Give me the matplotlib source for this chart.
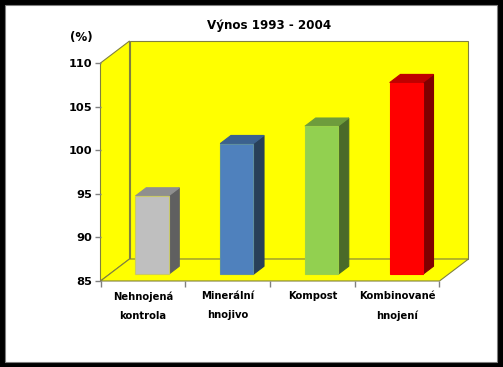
import matplotlib
matplotlib.use("Agg")
import matplotlib.pyplot as plt
from matplotlib.patches import Polygon, Rectangle

categories = ['Nehnojená\nkontrola', 'Minerální\nhnojivo', 'Kompost', 'Kombinované\nhnojení']
values = [94, 100, 102, 107]
front_colors = ['#BFBFBF', '#4F81BD', '#92D050', '#FF0000']
top_colors = ['#8F8F8F', '#3B618E', '#6E9C3C', '#BF0000']
side_colors = ['#606060', '#284059', '#4A6A29', '#800000']
edge_colors = ['#C8C86A', '#5F8FA0', '#9BD04A', '#FF0000']
y_ticks = [85, 90, 95, 100, 105, 110]

W, H = 503, 367
plt.rcParams['font.family'] = ['DejaVu Sans']
plt.rcParams['font.weight'] = 'bold'

fig = plt.figure(figsize=(W / 100, H / 100), dpi=100, facecolor='black')

# white page inside the black frame
fig.add_artist(Rectangle((5 / W, 1 - 361.5 / H), 491.5 / W, 356.5 / H, transform=fig.transFigure,
                         facecolor='white', edgecolor='#808080', linewidth=0.8, zorder=-1))

left, right, top, bottom = 100.5, 439.5, 63, 281
ax = fig.add_axes([left / W, 1 - bottom / H, (right - left) / W, (bottom - top) / H])
ax.set_xlim(0, 4)
ax.set_ylim(85, 110)
ax.patch.set_visible(False)
for s in ax.spines.values():
    s.set_visible(False)

# depth of the 3d box, in data units
DX = 29 / ((right - left) / 4)
DY = 22 / ((bottom - top) / 25)
wall = '#808040'


def proj(x, y, d):
    return (x + DX * d, y + DY * d)


def face(pts, color, edge=None, z=2, lw=0.8):
    ax.add_patch(Polygon(pts, closed=True, facecolor=color, edgecolor=edge or color,
                         linewidth=lw, zorder=z, clip_on=False))


# back wall, side wall, floor
face([proj(0, 85, 1), proj(4, 85, 1), proj(4, 110, 1), proj(0, 110, 1)], '#FFFF00', wall, 1, 0.8)
face([proj(0, 85, 0), proj(0, 85, 1), proj(0, 110, 1), proj(0, 110, 0)], '#FFFF00', wall, 1, 0.8)
face([proj(0, 85, 0), proj(4, 85, 0), proj(4, 85, 1), proj(0, 85, 1)], '#FFFF00', wall, 1, 0.8)

# bars
bar_w = 0.39
d0, d1 = 0.3, 0.67
for i, v in enumerate(values):
    x0 = i + 0.5 - bar_w / 2 + 0.005
    x1 = x0 + bar_w
    face([proj(x1, 85, d0), proj(x1, 85, d1), proj(x1, v, d1), proj(x1, v, d0)], side_colors[i], z=3)
    face([proj(x0, v, d0), proj(x1, v, d0), proj(x1, v, d1), proj(x0, v, d1)], top_colors[i], z=3)
    face([proj(x0, 85, d0), proj(x1, 85, d0), proj(x1, v, d0), proj(x0, v, d0)], front_colors[i], edge_colors[i], 4)

ax.set_yticks(y_ticks)
ax.set_xticks(range(5))
ax.set_xticklabels([])
ax.set_xticks([0.5, 1.5, 2.5, 3.5], minor=True)
ax.set_xticklabels(categories, minor=True, fontsize=7.2, linespacing=2.1)
ax.tick_params(axis='x', which='major', length=4, color='#808080', width=1)
ax.tick_params(axis='x', which='minor', length=0, pad=7.5)
ax.tick_params(axis='y', length=4, color='#808080', width=1, labelsize=8.2, pad=2)

fig.text(269.5 / W, 1 - 25 / H, 'Výnos 1993 - 2004', ha='center', va='center', fontsize=8.6)
fig.text(81.5 / W, 1 - 38 / H, '(%)', ha='center', va='center', fontsize=8.6)

fig.savefig('out.png', dpi=100, facecolor='black')
